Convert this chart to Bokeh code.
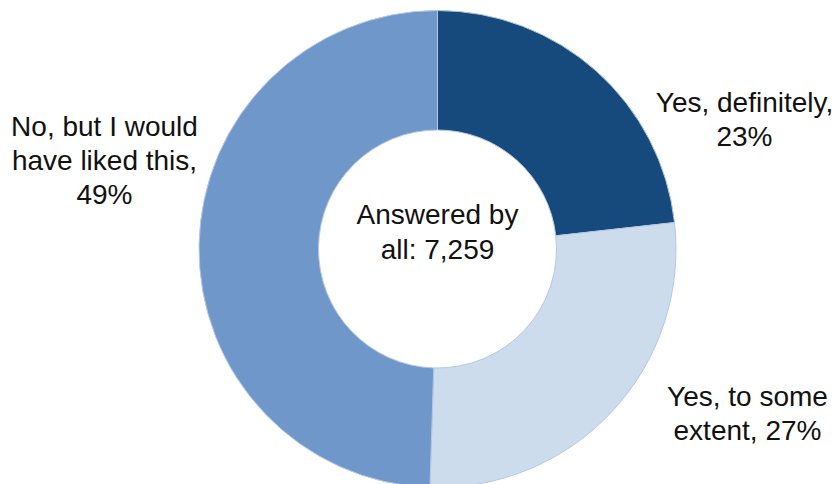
import numpy as np
from bokeh.plotting import figure
from bokeh.models import ColumnDataSource, Range1d
from bokeh.core.properties import value
from bokeh.embed import file_html
from bokeh.resources import INLINE

# data
categories = ["Yes, definitely", "Yes, to some extent", "No, but I would have liked this"]
shares = [23, 27, 49]
colors = ["#174A7C", "#CDDCEC", "#7097CA"]
labels = ["Yes, definitely,\n23%", "Yes, to some\nextent, 27%", "No, but I would\nhave liked this,\n49%"]
center_label = "Answered by\nall: 7,259"

W, H = 835, 484
p = figure(width=W, height=H, output_backend="svg", toolbar_location=None,
           x_range=Range1d(0, W), y_range=Range1d(0, H), min_border=0,
           outline_line_color=None)
p.axis.visible = False
p.grid.visible = False
p.background_fill_color = "white"

cx, cy = 437, 235.5
r_out, r_in = 238.5, 119

vals = np.array(shares, dtype=float)
frac = vals / vals.sum()
cum = np.concatenate([[0], np.cumsum(frac)])
start = np.pi / 2 - 2 * np.pi * cum[:-1]
end = np.pi / 2 - 2 * np.pi * cum[1:]

src = ColumnDataSource(dict(start=start, end=end, color=colors, cat=categories))
p.annular_wedge(x=cx, y=cy, inner_radius=r_in, outer_radius=r_out,
                start_angle="start", end_angle="end", direction="clock",
                fill_color="color", line_color="#B4C8E4", line_width=1, source=src)

# label positions (layout)
lx = [744, 747, 104]
ly = [365, 71, 324]
lsrc = ColumnDataSource(dict(x=lx, y=ly, text=labels))
p.text(x="x", y="y", text="text", source=lsrc, text_align="center",
       text_baseline="middle", text_font=value("Liberation Sans"),
       text_font_size="28px", text_color="#111111", text_line_height=1.1)
p.text(x=[cx], y=[252.5], text=[center_label], text_align="center",
       text_baseline="middle", text_font=value("Liberation Sans"),
       text_font_size="28px", text_color="#111111", text_line_height=1.1)

open("out.html", "w").write(file_html(p, INLINE))
